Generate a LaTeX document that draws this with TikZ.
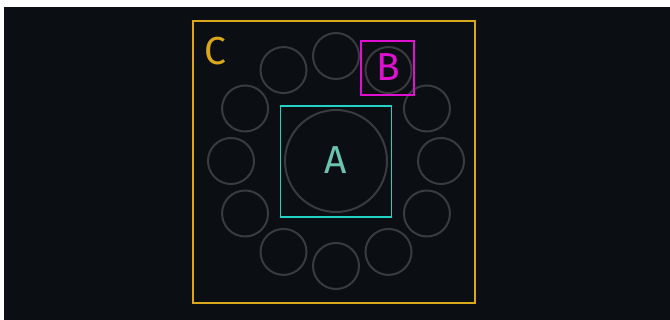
\documentclass[tikz,border=0pt]{standalone}
\usepackage{fontspec}
\setmainfont{Fira Sans}
\definecolor{bgdark}{HTML}{0B0E13}
\definecolor{ringgray}{HTML}{3A3B3F}
\definecolor{goldc}{HTML}{D9A81A}
\definecolor{cyanc}{HTML}{22D3C5}
\definecolor{magc}{HTML}{E010D0}
\definecolor{tealtxt}{HTML}{6CC4AE}
\begin{document}
\begin{tikzpicture}[x=1pt,y=-1pt,
  ring/.style={draw=ringgray,line width=2pt,circle,inner sep=0pt,minimum size=#1},
  boxline/.style={line width=1.1pt},
  lbl/.style={font=\fontsize{39}{39}\selectfont,inner sep=0pt}]
\useasboundingbox (0,0) rectangle (670,320);
\fill[white] (0,0) rectangle (670,320);
\fill[bgdark] (4,7) rectangle (670,320);
% outer frame C
\node[boxline,draw=goldc,minimum width=282pt,minimum height=282pt,inner sep=0pt] (Cbox) at (334,162) {};
\node[lbl,text=goldc] (C) at (215,51) {C};
% central circle
\node[ring=102pt] (center) at (336,161) {};
% ring of small circles
\foreach \i in {0,...,11}{
  \node[ring=46pt] (s\i) at ({336+105*sin(30*\i)},{161-105*cos(30*\i)}) {};
}
% cyan box A
\node[boxline,draw=cyanc,minimum width=111pt,minimum height=111pt,inner sep=0pt] (Abox) at (336,161.5) {};
\node[lbl,text=tealtxt] (A) at (336,160) {A};
% magenta box B
\node[boxline,draw=magc,minimum width=53pt,minimum height=54pt,inner sep=0pt] (Bbox) at (387.5,68) {};
\node[lbl,text=magc] (B) at (388,67) {B};
\end{tikzpicture}
\end{document}
